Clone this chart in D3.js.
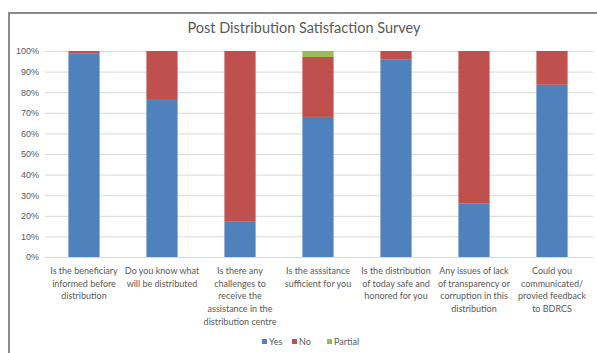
<!DOCTYPE html>
<html><head><meta charset="utf-8">
<script src="https://cdn.jsdelivr.net/npm/d3@7"></script>
<style>body{margin:0;background:#fff;}svg{display:block;font-family:Lato,"Liberation Sans",sans-serif;}</style>
</head><body><svg id="c" width="597" height="353"></svg>
<script>
const categories = [
  ["Is the beneficiary","informed before","distribution"],
  ["Do you know what","will be distributed"],
  ["Is there any","challenges to","receive the","assistance in the","distribution centre"],
  ["Is the asssitance","sufficient for you"],
  ["Is the distribution","of today safe and","honored for you"],
  ["Any issues of lack","of transparency or","corruption in this","distribution"],
  ["Could you","communicated/","provied feedback","to BDRCS"]
];
const yesValues = [98.7, 76.7, 17.1, 68.0, 96.0, 26.1, 83.6];
const noValues = [1.3, 23.3, 82.9, 29.1, 4.0, 73.9, 16.4];
const partialValues = [0, 0, 0, 2.9, 0, 0, 0];
const seriesNames = ["Yes","No","Partial"];
const colors = ["#4f81bd","#c0504d","#9bbb59"];
const yTicks = [0,10,20,30,40,50,60,70,80,90,100];

const svg = d3.select("#c");
svg.append("path").attr("d","M9,353 L9,13 L597,13").attr("fill","none").attr("stroke","#8c8c8c").attr("stroke-width",2);

svg.append("text").attr("x",304).attr("y",33).attr("text-anchor","middle")
  .attr("font-size",14.5).attr("fill","#595959").text("Post Distribution Satisfaction Survey");

const x = d3.scaleBand().domain(d3.range(categories.length)).range([45,591]).paddingInner(0.6).paddingOuter(0.3);
const y = d3.scaleLinear().domain([0,100]).range([257,51]);

const yAxis = svg.append("g").attr("transform","translate(45,0)")
  .call(d3.axisLeft(y).tickValues(yTicks).tickFormat(d=>d+"%").tickSize(-548).tickPadding(6));
yAxis.select(".domain").remove();
yAxis.selectAll(".tick line").attr("stroke","#d9d9d9");
yAxis.selectAll(".tick text").attr("fill","#595959").attr("font-size",9).attr("font-family","inherit");

const table = categories.map((c,i)=>({i, Yes:yesValues[i], No:noValues[i], Partial:partialValues[i]}));
const stacked = d3.stack().keys(seriesNames)(table);
svg.append("g").selectAll("g").data(stacked).join("g").attr("fill",(d,i)=>colors[i])
  .selectAll("rect").data(d=>d).join("rect")
  .attr("x",d=>x(d.data.i)).attr("width",x.bandwidth())
  .attr("y",d=>y(d[1])).attr("height",d=>y(d[0])-y(d[1]));

const xl = svg.append("g");
categories.forEach((lines,i)=>{
  const t = xl.append("text").attr("x",x(i)+x.bandwidth()/2).attr("y",274)
    .attr("text-anchor","middle").attr("font-size",9).attr("fill","#595959");
  lines.forEach((l,j)=>t.append("tspan").attr("x",x(i)+x.bandwidth()/2).attr("dy",j?12.7:0).text(l));
});

const lg = svg.append("g");
const legX = [262, 292, 327];
seriesNames.forEach((s,i)=>{
  lg.append("rect").attr("x",legX[i]).attr("y",339).attr("width",5).attr("height",5).attr("fill",colors[i]);
  lg.append("text").attr("x",legX[i]+7).attr("y",345).attr("font-size",9).attr("fill","#595959").text(s);
});
</script></body></html>
